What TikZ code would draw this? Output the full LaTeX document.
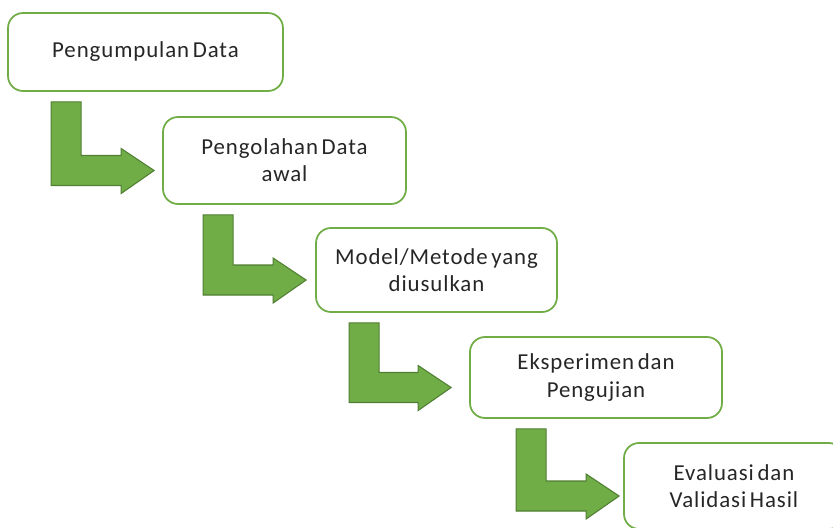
\documentclass[tikz,border=0pt]{standalone}
\usepackage{fontspec}
\setmainfont{Carlito}[LetterSpace=4, WordSpace=0.6]
\usetikzlibrary{calc}
\definecolor{boxgreen}{RGB}{112,173,71}
\definecolor{arrowfill}{RGB}{112,173,71}
\definecolor{arrowline}{RGB}{80,126,50}
\tikzset{
	stage/.style={draw=boxgreen, line width=1pt, rounded corners=0.3cm, fill=white, align=center, inner sep=2pt, text=black!85, font=\fontsize{13}{15.5}\selectfont},
	flow/.style={fill=arrowfill, draw=arrowline, line width=0.6pt, line join=miter}
}
\newcommand{\bentarrow}[4] % from node, to node, stem offset in px, tip gap in px
{
	% stem top-left under the source box
	\coordinate (s) at ($(#1.south west)+(#3,10)$);
	% tip left of the target box
	\coordinate (t) at ($(#2.west)+(-#4,10)$);
	\draw[flow] (s) -- ++(30,0) |- ($(t)+(-33,-15)$) -- ++(0,-7) -- (t)
		-- ($(t)+(-33,23)$) -- ++(0,-8) -| (s) -- cycle;
}
\begin{document}
\begin{tikzpicture}[x=0.02cm, y=-0.02cm]
	% canvas: 833px x 528px
	\useasboundingbox (0,0) rectangle (833,528);
	\clip (0,0) rectangle (833,528);
	% stages
	\node[stage, minimum width=5.5cm, minimum height=1.56cm] (b1) at (145.5,52) {Pengumpulan Data};
	\node[stage, minimum width=4.86cm, minimum height=1.74cm] (b2) at (284.5,160.5) {Pengolahan Data\\awal};
	\node[stage, minimum width=4.82cm, minimum height=1.68cm] (b3) at (436.5,270) {Model/Metode yang\\diusulkan};
	\node[stage, minimum width=5.04cm, minimum height=1.62cm] (b4) at (596,377.5) {Eksperimen dan\\Pengujian};
	\node[stage, minimum width=4.4cm, minimum height=1.72cm] (b5) at (734,486) {Evaluasi dan\\Validasi Hasil};
	% arrows between stages
	\bentarrow{b1}{b2}{44}{8};
	\bentarrow{b2}{b3}{41}{9};
	\bentarrow{b3}{b4}{34}{18};
	\bentarrow{b4}{b5}{47}{4};
\end{tikzpicture}
\end{document}
